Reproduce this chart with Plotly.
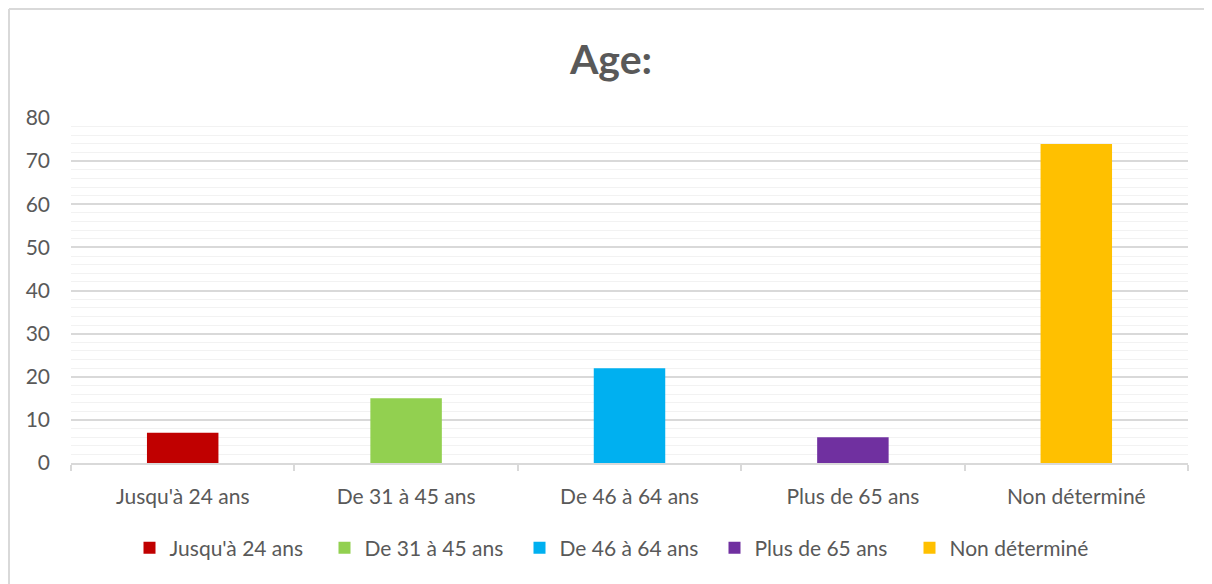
import plotly.graph_objects as go

title = 'Age:'
categories = ["Jusqu'à 24 ans", "De 31 à 45 ans", "De 46 à 64 ans", "Plus de 65 ans", "Non déterminé"]
values = [7, 15, 22, 6, 74]
colors = ['#C00000', '#92D050', '#00B0F0', '#7030A0', '#FFC000']

fig = go.Figure()

# one trace per category so each gets its own legend entry
for cat, val, col in zip(categories, values, colors):
    fig.add_trace(go.Bar(x=[cat], y=[val], name=cat,
                         marker=dict(color=col, line=dict(width=0)),
                         width=0.32))

# page body has an 8px margin: figure is drawn 8px right/down, overflow is cut
W, H = 1212, 584
ml, mr, mt, mb = 63, 32, 110, 129
pw, ph = W - ml - mr, H - mt - mb

fig.update_layout(
    width=W, height=H,
    barmode='overlay',
    paper_bgcolor='white', plot_bgcolor='white',
    font=dict(family='Lato, "Open Sans", sans-serif', size=21, color='#595959'),
    title=dict(text='<b>' + title + '</b>', x=603 / W, xanchor='center',
               y=1 - 52 / H, yanchor='middle',
               font=dict(size=41, color='#595959')),
    margin=dict(l=ml, r=mr, t=mt, b=mb, autoexpand=False),
    showlegend=True,
    legend=dict(orientation='h', x=(609 - ml) / pw, xanchor='center',
                y=-85 / ph, yanchor='middle',
                font=dict(size=21, color='#595959'),
                itemwidth=30, tracegroupgap=0,
                entrywidth=150, entrywidthmode='pixels'),
    xaxis=dict(categoryorder='array', categoryarray=categories,
               showgrid=False, showline=True, linecolor='#D9D9D9', linewidth=1.5,
               ticks='outside', tickson='boundaries', ticklen=6, tickcolor='#D9D9D9',
               tickwidth=1.5,
               tickfont=dict(size=21, color='#595959'), ticklabelstandoff=14,
               automargin=False, fixedrange=True),
    yaxis=dict(range=[0, 80], dtick=10, showgrid=True, gridcolor='#D9D9D9', gridwidth=1.5,
               minor=dict(dtick=2, showgrid=True, gridcolor='#F2F2F2', gridwidth=1),
               zeroline=False, ticks='', tickfont=dict(size=21, color='#595959'),
               ticklabelstandoff=20, automargin=False, fixedrange=True),
)

# outer chart border: only its left and top edges fall inside the picture
bx = -(ml - 1) / pw
by = 1 + (mt - 1) / ph
fig.add_shape(type='line', xref='paper', yref='paper',
              x0=bx, x1=bx, y0=by, y1=-(mb + 10) / ph,
              line=dict(color='#D9D9D9', width=2), layer='below')
fig.add_shape(type='line', xref='paper', yref='paper',
              x0=bx, x1=1 + (mr + 10) / pw, y0=by, y1=by,
              line=dict(color='#D9D9D9', width=2), layer='below')

fig.write_html('out.html')
